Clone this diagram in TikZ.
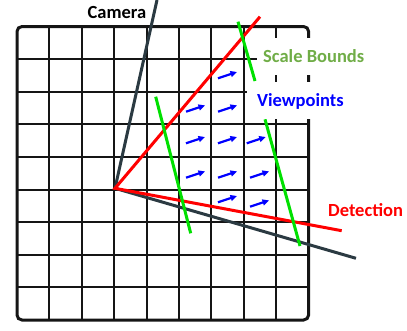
\documentclass[tikz,border=0pt]{standalone}
\usepackage{fontspec}
\setmainfont{Carlito}
\usepackage{xcolor}
\usetikzlibrary{arrows.meta}
\definecolor{meshc}{HTML}{151515}
\definecolor{slate}{HTML}{2B3A42}
\definecolor{boundc}{HTML}{00E000}
\definecolor{scalec}{HTML}{70AD47}
\definecolor{detc}{HTML}{FF0000}
\definecolor{viewc}{HTML}{0000FF}

\begin{document}
\begin{tikzpicture}[x=1pt, y=-1pt,
    lbl/.style={font=\bfseries\fontsize{18.5}{22}\selectfont, inner sep=0pt},
    boxed/.style={fill=white, minimum height=37.5pt, text height=12pt, text depth=0pt, inner ysep=0pt},
    camline/.style={slate, line width=3pt},
    detline/.style={detc, line width=3pt},
    bound/.style={boundc, line width=3pt},
    viewpt/.style={viewc, line width=2.2pt, -{Triangle[length=6.5pt, width=6pt]}}]
  \useasboundingbox (0,0) rectangle (407,330);
  % mesh
  \foreach \i in {1,...,8} {
    \draw[meshc, line width=2pt] ({17+32.4*\i},26.5) -- ({17+32.4*\i},320);
    \draw[meshc, line width=2pt] (17,{26.5+32.6*\i}) -- (308.6,{26.5+32.6*\i});
  }
  \draw[meshc, line width=3pt, rounded corners=5pt] (17,26.5) rectangle (308.6,320);

  \coordinate (cam) at (115,188.3);
  \coordinate (camtop) at (157,0);
  \coordinate (camlow) at (356,258.3);
  \coordinate (dettop) at (260,16.7);
  \coordinate (detlow) at (341.7,230.7);
  \draw[camline] (camtop) -- (cam) -- (camlow);
  \draw[detline] (dettop) -- (cam) -- (detlow);

  % scale bounds
  \foreach \ax/\ay/\bx/\by in
      {155.7/96.7/190.7/233.3, 238/21.7/255/81, 265/119.3/300/246} {
    \draw[bound] (\ax,\ay) -- (\bx,\by);
  }

  % viewpoints
  \foreach \x/\y in
      {218/78.3, 186/111.7, 218/111.7, 186/143.3, 218/143.3, 246.7/143.3,
       186/177.7, 218/177.7, 250/177.7, 218/202.3, 250/206.7} {
    \draw[viewpt] (\x,\y) -- ++(19,-6.3);
  }

  \node[lbl, text=black, anchor=base] (camera) at (117,18.3) {Camera};
  \node[lbl, boxed, text=scalec, anchor=west, inner xsep=6pt] (scale) at (257,56.5) {Scale Bounds};
  \node[lbl, boxed, text=viewc, anchor=west, inner xsep=10pt] (views) at (247,100.5) {Viewpoints};
  \node[lbl, text=detc, anchor=base west] (detect) at (328,216.5) {Detection};
\end{tikzpicture}
\end{document}
